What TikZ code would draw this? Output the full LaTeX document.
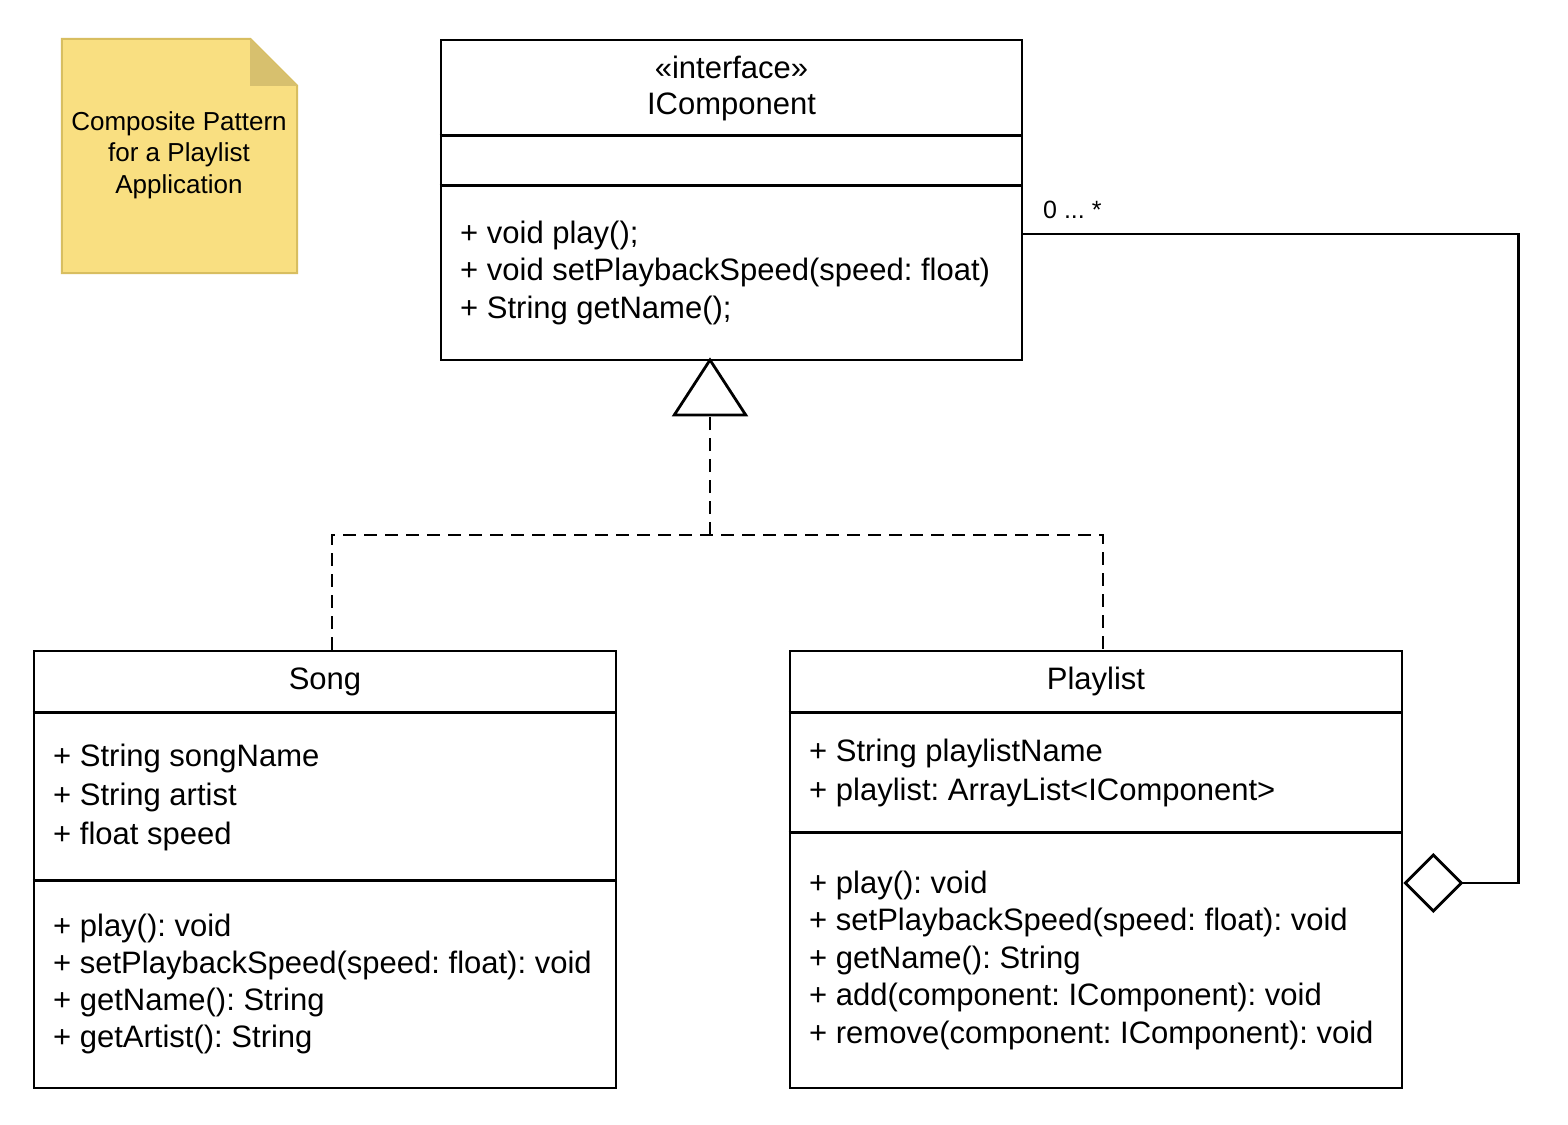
\documentclass[tikz,border=0pt]{standalone}
\usepackage{fontspec}
\setmainfont{Liberation Sans}
\usetikzlibrary{arrows.meta}
\definecolor{notefill}{RGB}{249,223,129}
\definecolor{noteedge}{RGB}{216,190,96}
\definecolor{notefold}{RGB}{215,192,110}
\frenchspacing
\begin{document}
\begin{tikzpicture}[x=1pt,y=-1pt,
  classbox/.style={draw, line width=2.8pt, rectangle, inner sep=0pt},
  divider/.style={line width=2.8pt},
  member/.style={anchor=north west, inner sep=0pt, align=left,
    font=\fontsize{31}{#1}\selectfont},
  classname/.style={anchor=base, inner sep=0pt, font=\fontsize{31}{37}\selectfont},
  realize/.style={line width=2.8pt, dash pattern=on 13pt off 8pt},
  assoc/.style={line width=2.8pt}
]
% canvas
\fill[white] (0,0) rectangle (1568,1124);
\useasboundingbox (0,0) rectangle (1568,1124);

% note with folded corner
\node[minimum width=235pt, minimum height=234pt, inner sep=0pt] (note) at (179.5,156) {};
\filldraw[fill=notefill, draw=noteedge, line width=2pt]
  (note.north west) -- ([xshift=-47pt]note.north east) -- ([yshift=-47pt]note.north east)
  -- (note.south east) -- (note.south west) -- cycle;
\fill[notefold] ([xshift=-47pt]note.north east) -- ([xshift=-47pt,yshift=-47pt]note.north east)
  -- ([yshift=-47pt]note.north east) -- cycle;
\node[anchor=north, inner sep=0pt, align=center, font=\fontsize{26}{31.5}\selectfont]
  (notetext) at (179,107.95) {\strut Composite Pattern\\for a Playlist\\Application};

% interface IComponent
\node[classbox, minimum width=581pt, minimum height=320pt] (icomp) at (731.5,200) {};
\draw[divider] ([yshift=-97pt]icomp.north west) -- ([yshift=-97pt]icomp.north east);
\draw[divider] ([yshift=-147pt]icomp.north west) -- ([yshift=-147pt]icomp.north east);
\node[anchor=north, inner sep=0pt, align=center, font=\fontsize{31}{36}\selectfont]
  (icomp-title) at (731.5,52.8) {\strut«interface»\\IComponent};
\node[member=37.5] (icomp-ops) at (460,216.75)
  {\strut+ void play();\\+ void setPlaybackSpeed(speed: float)\\+ String getName();};

% class Song
\node[classbox, minimum width=582pt, minimum height=437pt] (song) at (325,869.5) {};
\draw[divider] ([yshift=-63pt]song.north west) -- ([yshift=-63pt]song.north east);
\draw[divider] ([yshift=-231pt]song.north west) -- ([yshift=-231pt]song.north east);
\node[classname] (song-title) at (325,689) {Song};
\node[member=39] (song-attrs) at (53,738.7)
  {\strut+ String songName\\+ String artist\\+ float speed};
\node[member=37] (song-ops) at (53,910.1)
  {\strut+ play(): void\\+ setPlaybackSpeed(speed: float): void\\+ getName(): String\\+ getArtist(): String};

% class Playlist
\node[classbox, minimum width=612pt, minimum height=437pt] (playlist) at (1096,869.5) {};
\draw[divider] ([yshift=-63pt]playlist.north west) -- ([yshift=-63pt]playlist.north east);
\draw[divider] ([yshift=-183pt]playlist.north west) -- ([yshift=-183pt]playlist.north east);
\node[classname] (playlist-title) at (1096,689) {Playlist};
\node[member=39] (playlist-attrs) at (809,733.7)
  {\strut+ String playlistName\\+ playlist: ArrayList<IComponent>};
\node[member=37.5] (playlist-ops) at (809,866.75)
  {\strut+ play(): void\\+ setPlaybackSpeed(speed: float): void\\+ getName(): String\\+ add(component: IComponent): void\\+ remove(component: IComponent): void};

% realization of the interface
\coordinate (fork) at (710,535);
\draw[realize] ([xshift=7pt]song.north) |- (fork) -| ([xshift=7pt]playlist.north);
\draw[realize, -{Triangle[open, length=59pt, width=76pt]}] (fork) -- ([xshift=-21.5pt,yshift=4pt]icomp.south);

% aggregation of components in a playlist
\draw[assoc, -{Diamond[open, length=60pt, width=60pt]}]
  ([yshift=-34pt]icomp.east) -- ++(495,0) |- ([yshift=-13.5pt]playlist.east);
\node[anchor=base west, inner sep=0pt, font=\fontsize{25}{30}\selectfont] (mult) at (1043,218) {0 ... *};
\end{tikzpicture}
\end{document}
